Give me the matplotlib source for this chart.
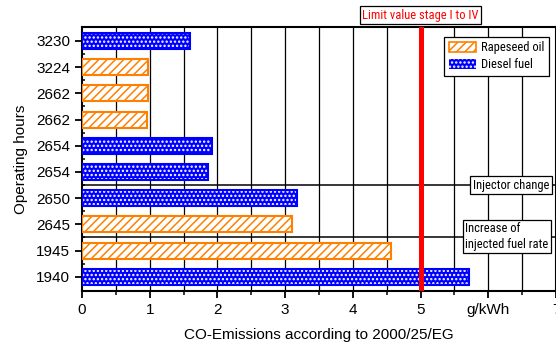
import matplotlib.pyplot as plt
import matplotlib.transforms as mtransforms
from matplotlib import font_manager
from matplotlib.patches import Patch
import numpy as np

plt.rcParams['font.family'] = ['Liberation Sans', 'DejaVu Sans']
plt.rcParams['hatch.linewidth'] = 1.1

# operating hours, top to bottom as listed in the chart
hours = ['3230', '3224', '2662', '2662', '2654', '2654', '2650', '2645', '1945', '1940']
co = [1.60, 0.97, 0.98, 0.96, 1.92, 1.86, 3.18, 3.10, 4.56, 5.72]
fuel = ['diesel', 'rape', 'rape', 'rape', 'diesel', 'diesel', 'diesel', 'rape', 'rape', 'diesel']
limit = 5.0
xticklabels = ['0', '1', '2', '3', '4', '5', 'g/kWh', '7']

ORANGE = '#FF8000'
BLUE = '#0000FF'


def find_narrow():
    # look for a condensed sans face for the small boxed labels
    files = [f.fname for f in font_manager.fontManager.ttflist]
    for key in ('liberationsansnarrow-regular', 'robotocondensed-regular',
                'dejavusanscondensed.', 'opensans_condensed-regular', 'notosans-condensed.'):
        for fn in files:
            if key in fn.lower().replace(' ', ''):
                return fn
    return None


nfile = find_narrow()
if nfile:
    small = font_manager.FontProperties(fname=nfile, size=9)
else:
    small = font_manager.FontProperties(family='Liberation Sans', size=7.8)

fig = plt.figure(figsize=(5.56, 3.47), dpi=100)
ax = fig.add_axes([82 / 556, 1 - 290.7 / 347, 474 / 556, 263.4 / 347])

ypos = np.arange(len(hours))[::-1]
for y, v, f in zip(ypos, co, fuel):
    if f == 'rape':
        ax.barh(y, v, height=0.61, color='white', edgecolor=ORANGE,
                hatch='////', linewidth=1.5, zorder=3)
    else:
        ax.barh(y, v, height=0.61, color=BLUE, edgecolor='white',
                hatch='....', linewidth=0, zorder=3)
        ax.barh(y, v, height=0.61, fill=False, edgecolor=BLUE,
                linewidth=1.5, zorder=4)

# grid: vertical every 0.5, two horizontal separators
for gx in np.arange(0.5, 7.0, 0.5):
    ax.axvline(gx, color='black', lw=0.9, zorder=1)
for gy in (3.5, 1.5):
    ax.axhline(gy, color='black', lw=1.1, zorder=1)

ax.axvline(limit, color='red', lw=3.6, zorder=6)

ax.set_xlim(0, 7)
ax.set_ylim(-0.53, 9.52)
ax.set_xticks(np.arange(0, 8))
ax.set_xticklabels(xticklabels)
ax.set_xticks(np.arange(0.5, 7, 1.0), minor=True)
ax.set_yticks(ypos)
ax.set_yticklabels(hours)
ax.set_yticks(np.arange(0.5, 9, 1.0), minor=True)
ax.tick_params(axis='both', which='major', labelsize=11, width=1.3, length=5, direction='out')
ax.tick_params(axis='x', which='minor', width=1.1, length=3, direction='out')
ax.tick_params(axis='y', which='minor', width=1.1, length=2.5, direction='in')
for s in ax.spines.values():
    s.set_linewidth(1.5)

ax.set_xlabel('CO-Emissions according to 2000/25/EG', fontsize=11, labelpad=8)
ax.set_ylabel('Operating hours', fontsize=11, labelpad=6)

trans = mtransforms.blended_transform_factory(ax.transData, ax.transAxes)
ax.text(limit, 1.045, 'Limit value stage I to IV', transform=trans, ha='center', va='center',
        color='red', fontproperties=small, clip_on=False,
        bbox=dict(boxstyle='square,pad=0.2', fc='white', ec='black', lw=0.9))

ax.text(5.77, 3.5, 'Injector change', ha='left', va='center', fontproperties=small, zorder=7,
        bbox=dict(boxstyle='square,pad=0.2', fc='white', ec='black', lw=0.9))
ax.text(5.66, 1.53, 'Increase of\ninjected fuel rate', ha='left', va='center',
        fontproperties=small, zorder=7, linespacing=1.25,
        bbox=dict(boxstyle='square,pad=0.2', fc='white', ec='black', lw=0.9))

handles = [Patch(facecolor='white', edgecolor=ORANGE, hatch='////', lw=1.2, label='Rapeseed oil'),
           Patch(facecolor=BLUE, edgecolor='white', hatch='....', lw=0, label='Diesel fuel')]
leg = ax.legend(handles=handles, loc='upper right', bbox_to_anchor=(0.985, 0.963),
                borderaxespad=0, fancybox=False, framealpha=1, edgecolor='black',
                prop=small, handlelength=2.2, handleheight=0.9,
                handletextpad=0.4, borderpad=0.35, labelspacing=0.3)
leg.get_frame().set_linewidth(0.9)
leg.set_zorder(8)

fig.savefig('out.png', dpi=100)
